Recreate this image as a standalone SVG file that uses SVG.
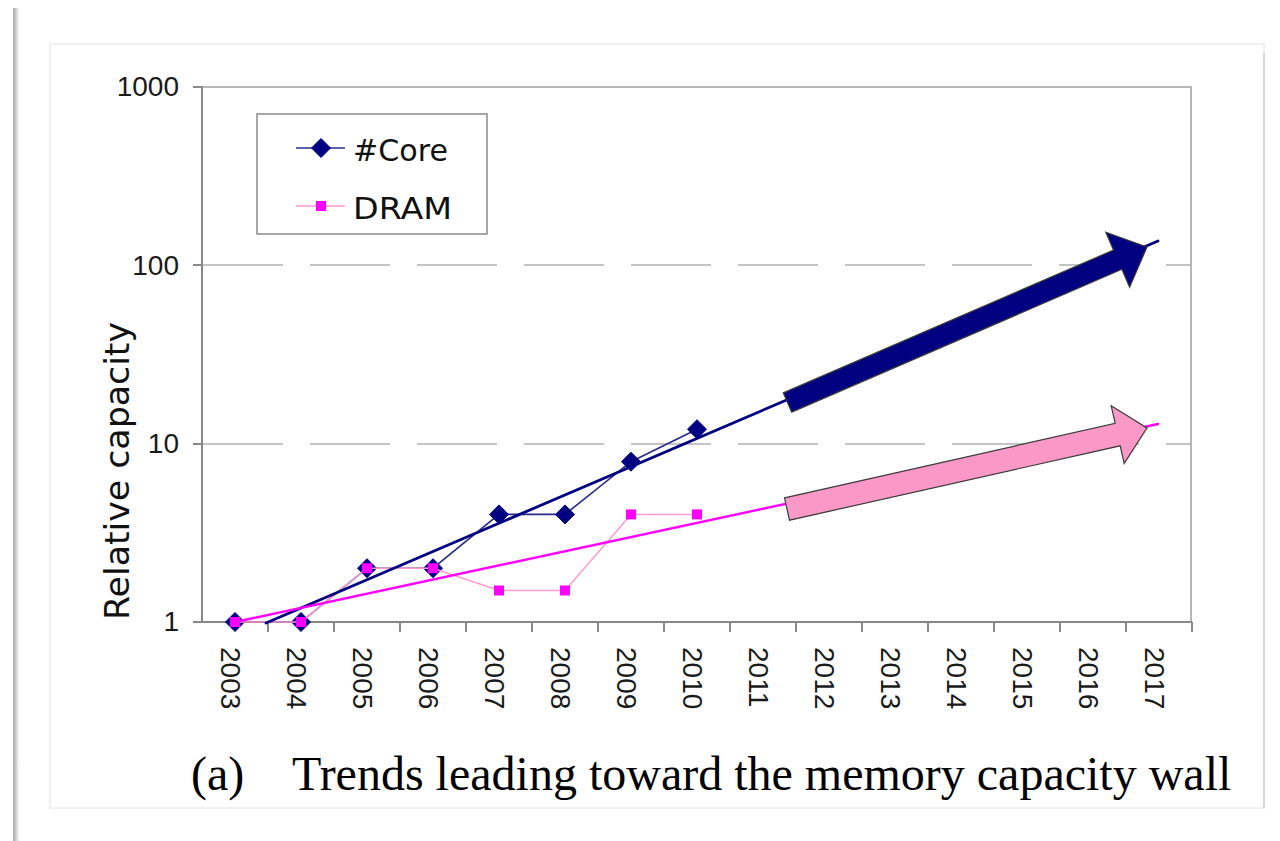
<svg xmlns="http://www.w3.org/2000/svg" width="1280" height="841" viewBox="0 0 1280 841">
  <defs>
    <linearGradient id="edgeShade" x1="0" y1="0" x2="1" y2="0">
      <stop offset="0" stop-color="#a8a8a8"/>
      <stop offset="0.35" stop-color="#c8c8c8"/>
      <stop offset="1" stop-color="#ffffff" stop-opacity="0"/>
    </linearGradient>
    <style>
      .axis { stroke: #888888; stroke-width: 2; fill: none; }
      .frame { stroke: #a0a0a0; stroke-width: 1.5; fill: none; }
      .grid { stroke: #c4c4c4; stroke-width: 2; stroke-dasharray: 80 27; fill: none; }
      .ytick { font-family: "Liberation Sans", Arial, sans-serif; font-size: 28px; fill: #1a1a1a; text-anchor: end; }
      .xtick { font-family: "Liberation Sans", Arial, sans-serif; font-size: 28px; fill: #1a1a1a; }
      .title { font-family: "DejaVu Sans", "Liberation Sans", sans-serif; font-size: 34px; fill: #111111; }
      .legend-text { font-family: "DejaVu Sans", "Liberation Sans", sans-serif; font-size: 31px; fill: #111111; }
      .caption { font-family: "Liberation Serif", "Times New Roman", serif; font-size: 48px; fill: #000000; }
      .core-line { stroke: #2a2a88; stroke-width: 1.6; fill: none; }
      .dram-line { stroke: #ff9ad0; stroke-width: 1.5; fill: none; }
      .core-trend { stroke: #000080; stroke-width: 2.8; fill: none; stroke-linecap: round; }
      .dram-trend { stroke: #ff00ff; stroke-width: 2.4; fill: none; stroke-linecap: round; }
      .core-mark { fill: #000080; stroke: #000080; stroke-width: 1; }
      .dram-mark { fill: #ff00ff; }
      .block-arrow { stroke: #3a3a3a; stroke-width: 1.2; stroke-linejoin: miter; }
    </style>
    <path id="diamond" d="M 0 -9.5 L 9.5 0 L 0 9.5 L -9.5 0 Z"/>
    <rect id="square" x="-5" y="-5" width="10" height="10"/>
  </defs>

  <!-- page background and left page edge -->
  <rect x="0" y="0" width="1280" height="841" fill="#ffffff"/>
  <rect x="13" y="8" width="8" height="833" fill="url(#edgeShade)"/>

  <!-- figure panel -->
  <g id="panel">
    <rect x="50" y="44" width="1214" height="764" fill="#ffffff" stroke="#ececec" stroke-width="1.5"/>
    <line x1="1264" y1="53" x2="1264" y2="808" stroke="#d6d6d6" stroke-width="2"/>
  </g>

  <!-- plot area: gridlines, frame and axes -->
  <g id="plot-area">
    <line class="grid" x1="203" y1="265" x2="1191" y2="265"/>
    <line class="grid" x1="203" y1="444" x2="1191" y2="444"/>
    <polyline class="frame" points="202,87 1191,87 1191,622"/>
    <line class="axis" x1="202" y1="86" x2="202" y2="623"/>
    <line class="axis" x1="202" y1="622" x2="1192" y2="622"/>
    <!-- y ticks -->
    <g class="axis">
      <line x1="193" y1="87" x2="202" y2="87"/>
      <line x1="193" y1="265" x2="202" y2="265"/>
      <line x1="193" y1="444" x2="202" y2="444"/>
      <line x1="193" y1="622" x2="202" y2="622"/>
    </g>
    <!-- x ticks -->
    <g class="axis" stroke-width="1.5">
      <line x1="268" y1="622" x2="268" y2="632"/>
      <line x1="334" y1="622" x2="334" y2="632"/>
      <line x1="400" y1="622" x2="400" y2="632"/>
      <line x1="466" y1="622" x2="466" y2="632"/>
      <line x1="532" y1="622" x2="532" y2="632"/>
      <line x1="598" y1="622" x2="598" y2="632"/>
      <line x1="664" y1="622" x2="664" y2="632"/>
      <line x1="730" y1="622" x2="730" y2="632"/>
      <line x1="796" y1="622" x2="796" y2="632"/>
      <line x1="862" y1="622" x2="862" y2="632"/>
      <line x1="928" y1="622" x2="928" y2="632"/>
      <line x1="994" y1="622" x2="994" y2="632"/>
      <line x1="1060" y1="622" x2="1060" y2="632"/>
      <line x1="1126" y1="622" x2="1126" y2="632"/>
      <line x1="1192" y1="622" x2="1192" y2="632"/>
    </g>
  </g>

  <!-- axis labels -->
  <g id="y-axis-labels">
    <text class="ytick" x="179" y="96">1000</text>
    <text class="ytick" x="179" y="275">100</text>
    <text class="ytick" x="179" y="453">10</text>
    <text class="ytick" x="179" y="631">1</text>
    <text class="title" transform="translate(129,471) rotate(-90)" text-anchor="middle" textLength="298" lengthAdjust="spacingAndGlyphs">Relative capacity</text>
  </g>
  <g id="x-axis-labels">
    <text class="xtick" transform="translate(221,647) rotate(90)">2003</text>
    <text class="xtick" transform="translate(287,647) rotate(90)">2004</text>
    <text class="xtick" transform="translate(353,647) rotate(90)">2005</text>
    <text class="xtick" transform="translate(419,647) rotate(90)">2006</text>
    <text class="xtick" transform="translate(485,647) rotate(90)">2007</text>
    <text class="xtick" transform="translate(551,647) rotate(90)">2008</text>
    <text class="xtick" transform="translate(617,647) rotate(90)">2009</text>
    <text class="xtick" transform="translate(683,647) rotate(90)">2010</text>
    <text class="xtick" transform="translate(749,647) rotate(90)">2011</text>
    <text class="xtick" transform="translate(815,647) rotate(90)">2012</text>
    <text class="xtick" transform="translate(881,647) rotate(90)">2013</text>
    <text class="xtick" transform="translate(947,647) rotate(90)">2014</text>
    <text class="xtick" transform="translate(1013,647) rotate(90)">2015</text>
    <text class="xtick" transform="translate(1079,647) rotate(90)">2016</text>
    <text class="xtick" transform="translate(1145,647) rotate(90)">2017</text>
  </g>

  <!-- data series -->
  <g id="series-core">
    <polyline class="core-line" points="235,622 301,622 367,568.2 433,568.2 499,514.4 565,514.4 631,461.7 697,429.2"/>
    <use href="#diamond" class="core-mark" x="235" y="622"/>
    <use href="#diamond" class="core-mark" x="301" y="622"/>
    <use href="#diamond" class="core-mark" x="367" y="568.2"/>
    <use href="#diamond" class="core-mark" x="433" y="568.2"/>
    <use href="#diamond" class="core-mark" x="499" y="514.4"/>
    <use href="#diamond" class="core-mark" x="565" y="514.4"/>
    <use href="#diamond" class="core-mark" x="631" y="461.7"/>
    <use href="#diamond" class="core-mark" x="697" y="429.2"/>
  </g>
  <g id="series-dram">
    <polyline class="dram-line" points="235,622 301,622 367,568.2 433,568.2 499,590.5 565,590.5 631,514.4 697,514.4"/>
    <use href="#square" class="dram-mark" x="235" y="622"/>
    <use href="#square" class="dram-mark" x="301" y="622"/>
    <use href="#square" class="dram-mark" x="367" y="568.2"/>
    <use href="#square" class="dram-mark" x="433" y="568.2"/>
    <use href="#square" class="dram-mark" x="499" y="590.5"/>
    <use href="#square" class="dram-mark" x="565" y="590.5"/>
    <use href="#square" class="dram-mark" x="631" y="514.4"/>
    <use href="#square" class="dram-mark" x="697" y="514.4"/>
  </g>

  <!-- exponential trendlines and projection arrows -->
  <g id="connectors">
    <line class="core-trend" x1="266" y1="623" x2="1158" y2="241"/>
    <line class="dram-trend" x1="235" y1="622" x2="1158" y2="424"/>
    <polygon id="core-arrow" class="block-arrow" fill="#000080" points="783.3,392.9 1113.5,250.1 1105.8,232.2 1147,247 1129.6,287.2 1121.9,269.3 791.7,412.1"/>
    <polygon id="dram-arrow" class="block-arrow" fill="#fa98c8" points="784.5,497.8 1115.2,423.4 1111.2,405.8 1147,428 1124.2,463.4 1120.2,445.8 789.5,520.2"/>
  </g>

  <!-- legend -->
  <g id="legend">
    <rect x="257" y="114" width="230" height="120" fill="#ffffff" stroke="#8a8a8a" stroke-width="1.5"/>
    <line x1="296" y1="148" x2="345" y2="148" class="core-line"/>
    <use href="#diamond" class="core-mark" x="321" y="148"/>
    <text class="legend-text" x="353" y="161" textLength="95" lengthAdjust="spacingAndGlyphs">#Core</text>
    <line x1="296" y1="206" x2="345" y2="206" class="dram-line"/>
    <use href="#square" class="dram-mark" x="321" y="206"/>
    <text class="legend-text" x="353" y="219" textLength="99" lengthAdjust="spacingAndGlyphs">DRAM</text>
  </g>

  <!-- caption -->
  <g id="caption">
    <text class="caption" x="191" y="790">(a)</text>
    <text class="caption" x="292" y="790">Trends leading toward the memory capacity wall</text>
  </g>
</svg>
